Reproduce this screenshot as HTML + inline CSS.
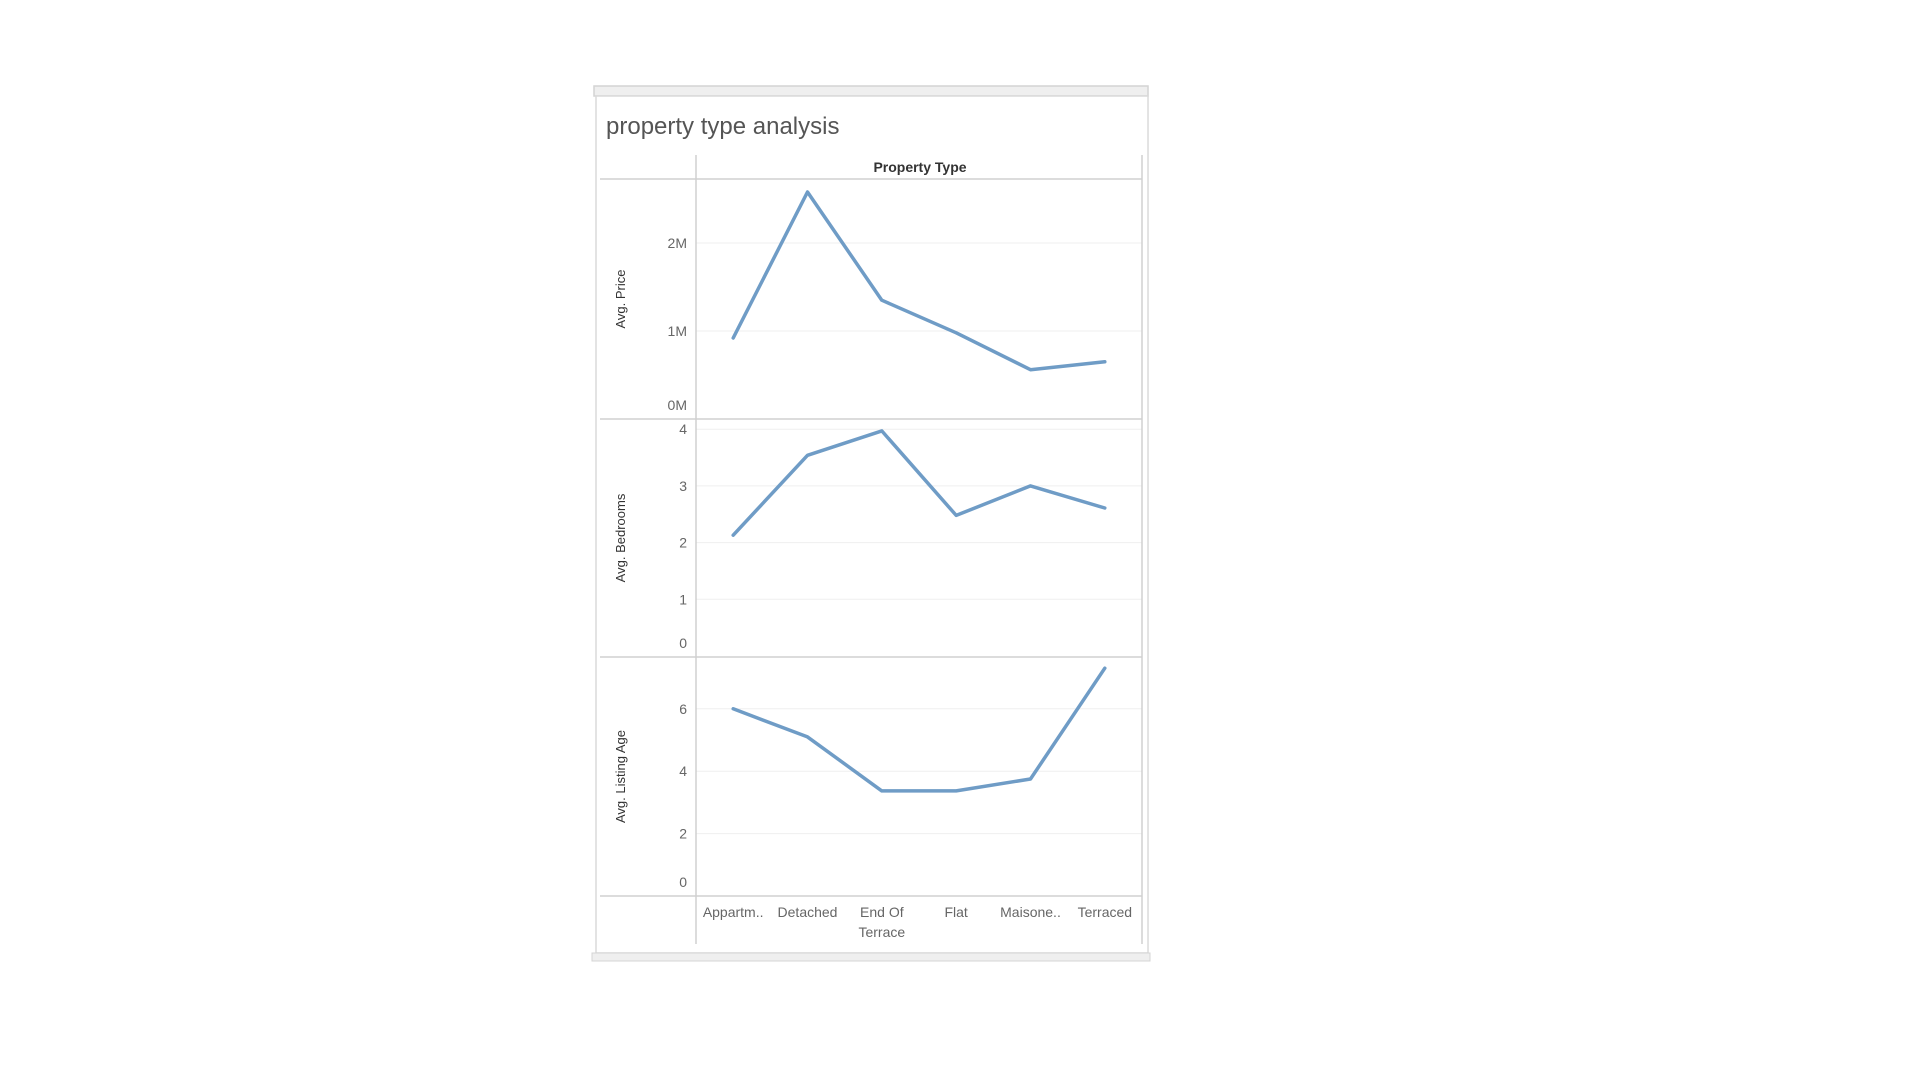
<!DOCTYPE html>
<html><head><meta charset="utf-8">
<style>
body{margin:0;background:#fff;width:1920px;height:1080px;overflow:hidden;font-family:"Liberation Sans",sans-serif;}
svg{position:absolute;left:0;top:0}
</style></head>
<body>
<svg width="1920" height="1080">
<rect x="594" y="86" width="554" height="10" fill="#efefef" stroke="#d4d4d4" stroke-width="1.5"/>
<rect x="596" y="96" width="552" height="857" fill="#fff" stroke="#dadada" stroke-width="1.5"/>
<rect x="592" y="953" width="558" height="8" fill="#efefef" stroke="#d4d4d4" stroke-width="1"/>
<text x="606" y="134" font-size="24" fill="#555">property type analysis</text>
<text x="920" y="172" font-size="14" fill="#333" text-anchor="middle" font-weight="bold">Property Type</text>
<g id="g"></g>
</svg>
<script>
const categories=["Appartm..","Detached","End Of|Terrace","Flat","Maisone..","Terraced"];
const priceValues=[0.92,2.58,1.35,0.98,0.56,0.65];
const bedroomValues=[2.13,3.54,3.97,2.48,3.0,2.61];
const ageValues=[6.0,5.1,3.37,3.37,3.75,7.3];
const priceTicks=[0,1,2];
const bedroomTicks=[0,1,2,3,4];
const ageTicks=[0,2,4,6];
const NS="http://www.w3.org/2000/svg";
const g=document.getElementById('g');
const X0=696,X1=1142,cw=(X1-X0)/categories.length;
function xs(i){return X0+cw*(i+0.5);}
function mk(t,a){const e=document.createElementNS(NS,t);for(const k in a)e.setAttribute(k,a[k]);g.appendChild(e);return e;}
const panels=[
 {name:'price',title:'Avg. Price',vals:priceValues,ticks:priceTicks,top:179,bot:419,y0:419,per:88,fmt:v=>v+'M'},
 {name:'bedrooms',title:'Avg. Bedrooms',vals:bedroomValues,ticks:bedroomTicks,top:419,bot:657,y0:656,per:56.7,fmt:v=>v},
 {name:'age',title:'Avg. Listing Age',vals:ageValues,ticks:ageTicks,top:657,bot:896,y0:896,per:31.2,fmt:v=>v}
];
panels.forEach(p=>{
 const ys=v=>p.y0-v*p.per;
 p.ticks.forEach(t=>{
  const y=ys(t);
  if(t!==0){const l=mk('line',{x1:X0,x2:X1,y1:y,y2:y,stroke:'#efefef','stroke-width':1});
  
  }
  const ty=Math.min(y+5,p.bot-9);
  const tx=mk('text',{x:687,y:ty,'font-size':14,fill:'#666','text-anchor':'end'});
  tx.textContent=p.fmt(t);
  
  
 });
 const cy=(p.top+p.bot)/2;
 const at=mk('text',{x:0,y:0,'font-size':13,fill:'#333','text-anchor':'middle',transform:`translate(625,${cy}) rotate(-90)`});
 at.textContent=p.title;
 
 
 const pts=p.vals.map((v,i)=>xs(i).toFixed(1)+','+ys(v).toFixed(1)).join(' ');
 const pl=mk('polyline',{points:pts,fill:'none',stroke:'#6f9cc6','stroke-width':3.5,'stroke-linejoin':'round','stroke-linecap':'round'});
 
 
 const hl=mk('line',{x1:600,x2:1142,y1:p.bot,y2:p.bot,stroke:'#d0d0d0','stroke-width':1.5});
 
 
});
const h=mk('line',{x1:600,x2:1142,y1:179,y2:179,stroke:'#d0d0d0','stroke-width':1.5});


[X0,X1].forEach(x=>{const v=mk('line',{x1:x,x2:x,y1:155,y2:944,stroke:'#d0d0d0','stroke-width':1.5});

});
categories.forEach((c,i)=>{
 const parts=c.split('|');
 parts.forEach((s,j)=>{
  const t=mk('text',{x:xs(i),y:917+j*20,'font-size':14,fill:'#666','text-anchor':'middle'});
  t.textContent=s;
  
  
 });
});
</script>
</body></html>
